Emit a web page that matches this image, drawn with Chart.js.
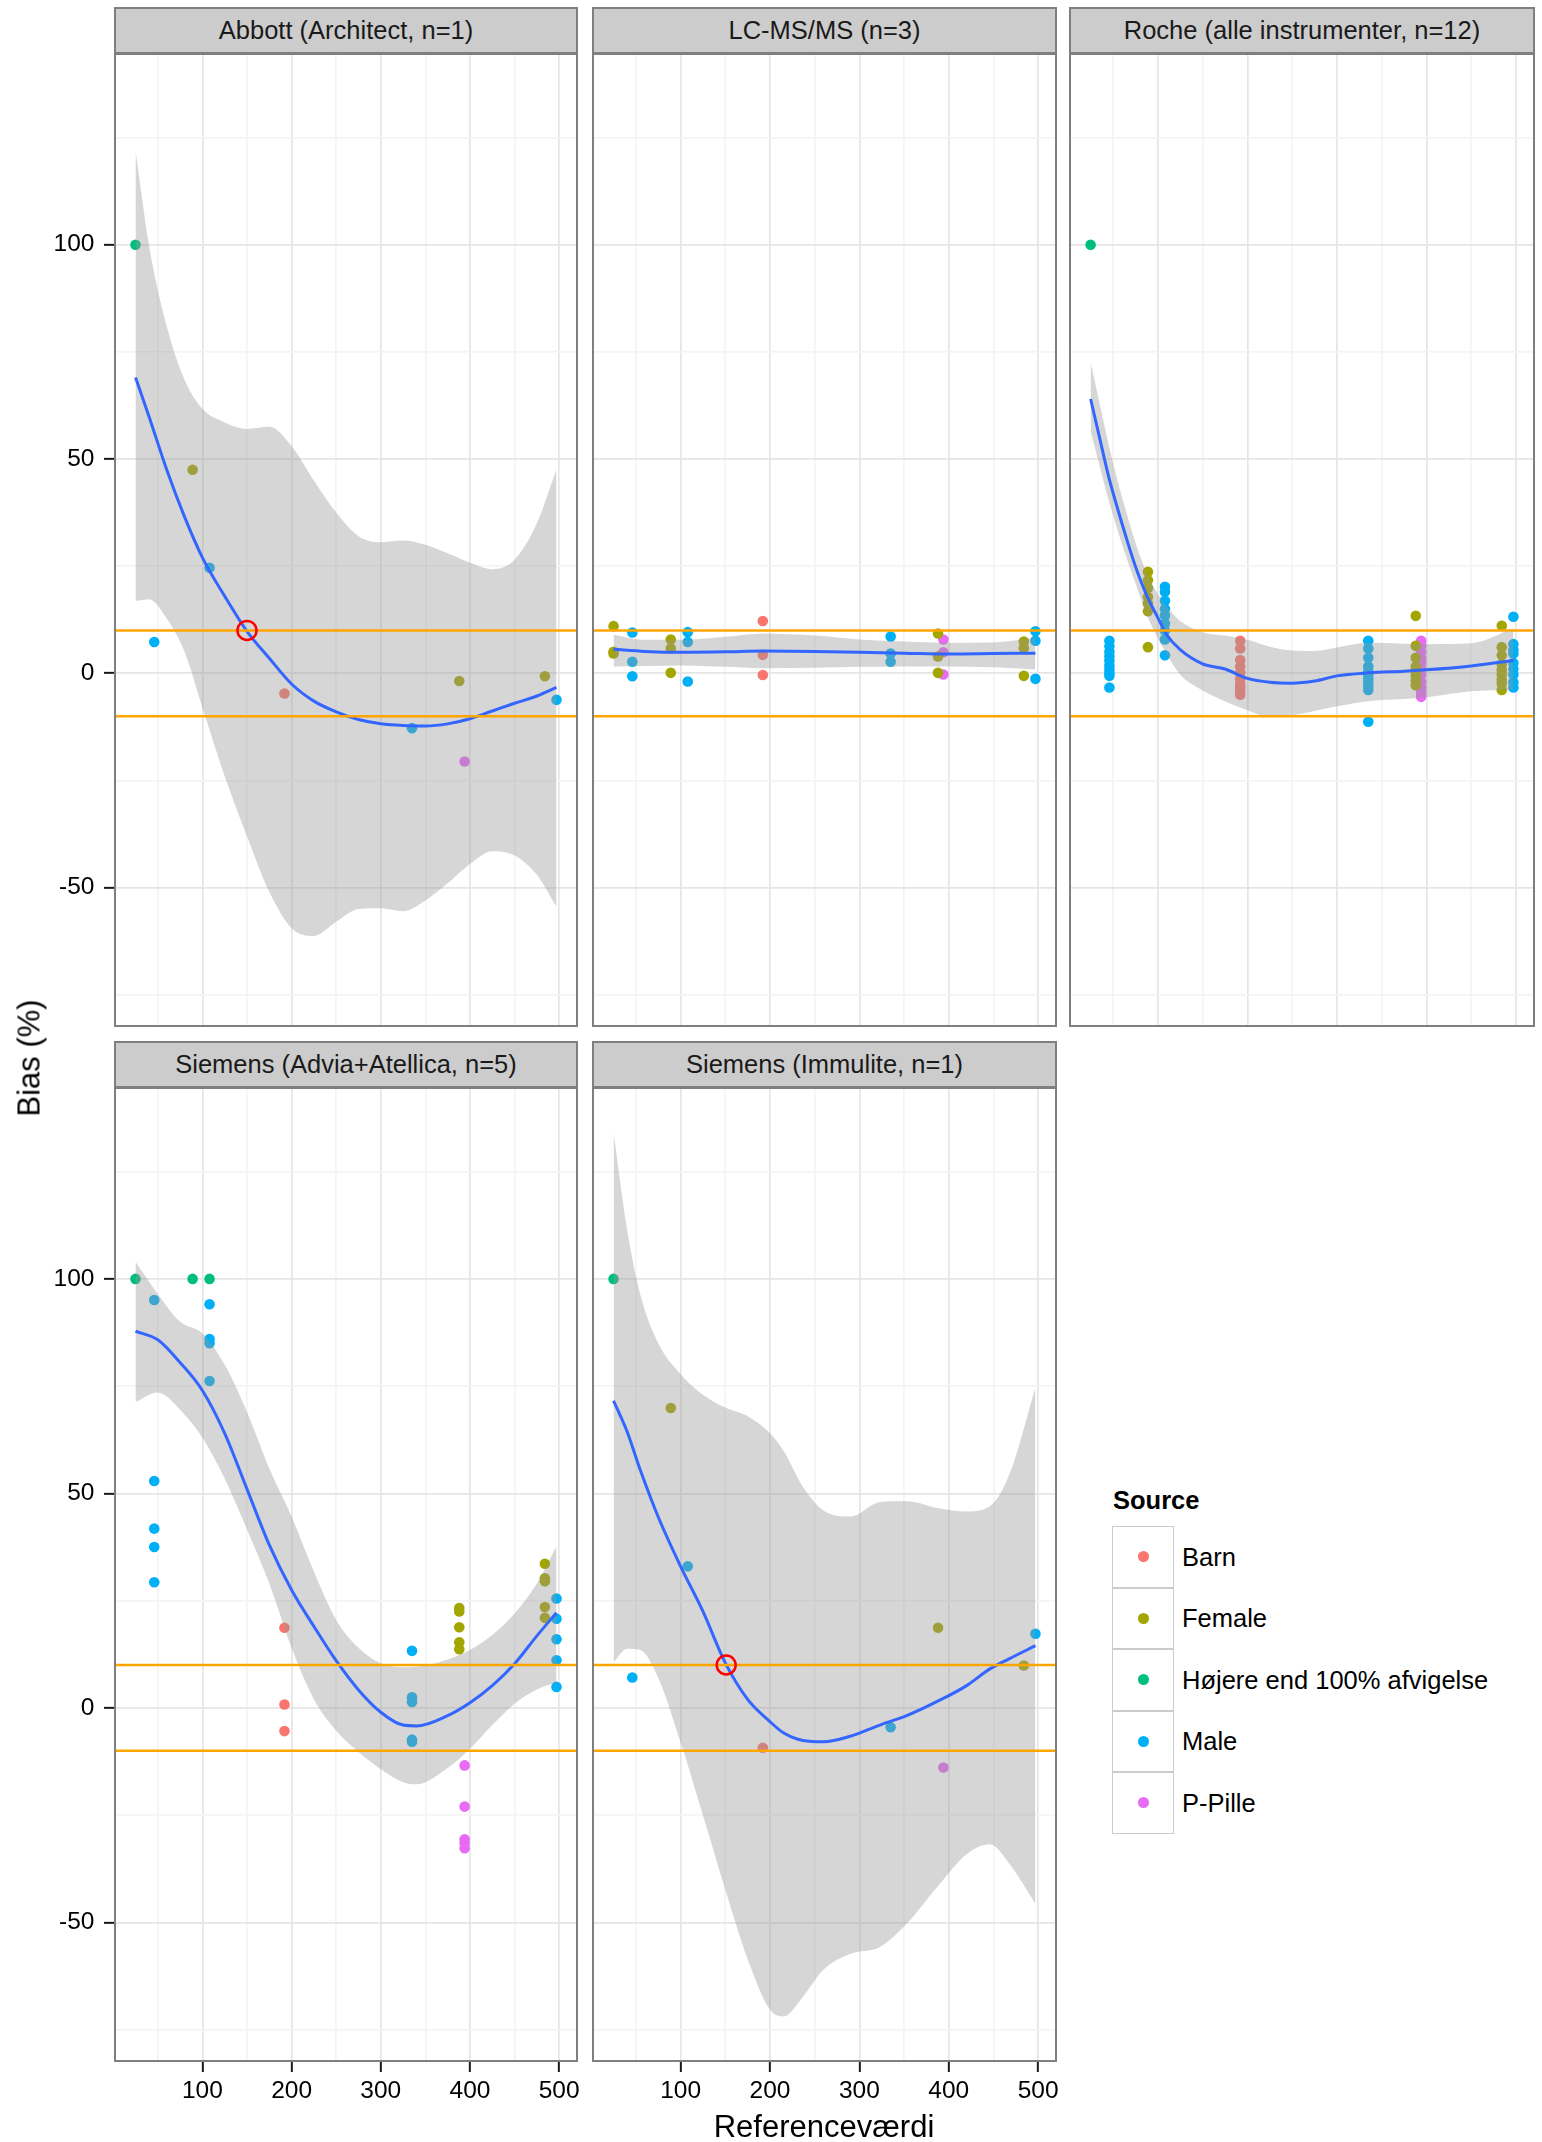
<!DOCTYPE html>
<html>
<head>
<meta charset="utf-8">
<script src="https://cdn.jsdelivr.net/npm/chart.js@4.4.0/dist/chart.umd.min.js"></script>
<style>
  body { margin: 0; background: #fff; font-family: "Liberation Sans", Arial, sans-serif; }
  #page { position: relative; width: 1542px; height: 2142px; overflow: hidden; background: #fff; }
  #page canvas { position: absolute; }
  .strip { position: absolute; box-sizing: border-box; background: #cccccc; border: 2px solid #7f7f7f;
           font-size: 25.5px; color: #1a1a1a; display: flex; align-items: center; justify-content: center; white-space: nowrap; }
  .axis-title { position: absolute; font-size: 31px; line-height: 31px; color: #000; white-space: nowrap; }
  #legend-title { position: absolute; left: 1113px; top: 1488px; font-size: 25.5px; line-height: 25.5px; font-weight: bold; }
  .key { position: absolute; left: 1112px; width: 62px; height: 61.5px; box-sizing: border-box; border: 1.5px solid #cccccc; background: #fff; }
  .key span { position: absolute; left: 50%; top: 50%; width: 11px; height: 11px; margin: -5.5px 0 0 -5.5px; border-radius: 50%; }
  .key-label { position: absolute; left: 1182px; font-size: 25.5px; line-height: 30px; white-space: nowrap; }
</style>
</head>
<body>
<div id="page"></div>
<script>
// sources and colours
const sources = ['Barn', 'Female', 'Højere end 100% afvigelse', 'Male', 'P-Pille'];
const sourceColors = ['#F8766D', '#A3A500', '#00BF7D', '#00B0F6', '#E76BF3'];

// axes
const xMin = 2, xMax = 520;
const yMin = -82.3, yMax = 144.5;
const xMajor = [100, 200, 300, 400, 500];
const xMinor = [50, 150, 250, 350, 450];
const yMajor = [-50, 0, 50, 100];
const yMinor = [-75, -25, 25, 75, 125];
const limitLines = [10, -10];

// Abbott (Architect, n=1)
const abbottBarn = [[192, -4.7]];
const abbottFemale = [[89, 47.5], [388, -1.8], [484, -0.7]];
const abbottHojere = [[25, 100]];
const abbottMale = [[46, 7.3], [108, 24.6], [335, -12.8], [497, -6.2]];
const abbottPPille = [[394, -20.6]];
const abbottMarker = [[150, 10]];
const abbottSmoothX = [25, 40, 60, 80, 100, 125, 150, 175, 200, 225, 250, 275, 300, 325, 350, 375, 400, 425, 450, 475, 497];
const abbottFit = [69, 60, 47.5, 36.5, 27, 18, 9.8, 3.5, -2.5, -6.5, -9, -10.8, -11.8, -12.2, -12.3, -11.8, -10.6, -8.8, -7, -5.3, -3.3];
const abbottUpper = [122, 100, 81, 68.5, 61.7, 58.5, 57, 57.5, 53, 45, 37.5, 32, 30.6, 31, 30, 28, 25.8, 24.3, 26.5, 35, 47.6];
const abbottLower = [16.9, 17.3, 12.8, 5, -8, -24, -38, -51, -59.5, -61.3, -58, -55, -54.8, -55.5, -53, -49, -44.5, -41.5, -42.5, -47, -54.5];

// LC-MS/MS (n=3)
const lcBarn = [[192, 12.2], [192, 4.3], [192, -0.4]];
const lcFemale = [[25, 11], [25, 5], [25, 4.6], [89, 7.9], [89, 5.8], [89, 0.1], [388, 9.3], [388, 3.9], [388, 0.1],
                  [484, 7.4], [484, 5.9], [484, -0.6]];
const lcHojere = [];
const lcMale = [[46, 9.5], [46, 2.7], [46, -0.7], [108, 9.6], [108, 7.3], [108, -1.9], [335, 8.6], [335, 4.6], [335, 2.7],
                [497, 9.8], [497, 7.6], [497, -1.3]];
const lcPPille = [[394, 7.9], [394, 4.9], [394, -0.3]];
const lcSmoothX = [25, 60, 100, 150, 192, 250, 300, 350, 400, 450, 497];
const lcFit = [5.6, 5.1, 4.9, 5.0, 5.2, 5.1, 4.9, 4.7, 4.5, 4.6, 4.7];
const lcUpper = [9, 7.8, 7.8, 8.5, 9.3, 8.8, 7.9, 7.4, 7.1, 7.2, 8.3];
const lcLower = [1.6, 1.7, 1.8, 1.5, 1.2, 1.3, 1.5, 1.6, 1.6, 1.4, 0.9];

// Roche (alle instrumenter, n=12)
const rocheBarn = [[192, 7.6], [192, 5.8], [192, 3.1], [192, 1.6], [192, 0.1], [192, -1.3], [192, -2.5], [192, -3.3], [192, -4.3], [192, -5]];
const rocheFemale = [[89, 23.7], [89, 21.7], [89, 19.9], [89, 17.8], [89, 16.3], [89, 14.5], [89, 6.1],
                     [388, 13.4], [388, 6.4], [388, 3.6], [388, 1.6], [388, 0.5], [388, -0.6], [388, -1.8], [388, -2.8],
                     [484, 11.1], [484, 6.1], [484, 4.2], [484, 2.1], [484, 0.8], [484, -0.3], [484, -1.5], [484, -2.4], [484, -3.9]];
const rocheHojere = [[25, 100]];
const rocheMale = [[46, 7.6], [46, 6.3], [46, 5], [46, 4], [46, 3], [46, 1.8], [46, 0.8], [46, 0], [46, -0.6], [46, -3.3],
                   [108, 20.2], [108, 19], [108, 16.9], [108, 15], [108, 13.5], [108, 11.6], [108, 10], [108, 7.9], [108, 4.2],
                   [335, 7.6], [335, 5.8], [335, 3.6], [335, 1.6], [335, 0.5], [335, -0.3], [335, -1.2], [335, -2.1], [335, -3], [335, -3.9], [335, -11.3],
                   [497, 13.2], [497, 6.8], [497, 5.5], [497, 4.6], [497, 2.4], [497, 1], [497, -0.3], [497, -2.1], [497, -3.3]];
const rochePPille = [[394, 7.6], [394, 6.5], [394, 5], [394, 3.5], [394, 2.4], [394, 1], [394, -0.3], [394, -2], [394, -3.3], [394, -4.5], [394, -5.5]];
const rocheSmoothX = [25, 35, 45, 55, 65, 75, 88, 100, 110, 125, 150, 175, 200, 225, 250, 275, 300, 335, 375, 400, 450, 497];
const rocheFit = [64, 55, 46, 38.5, 31.5, 25, 18, 13, 9, 5.5, 2.2, 1, -1.2, -2.1, -2.3, -1.8, -0.6, 0.1, 0.5, 0.8, 1.7, 3];
const rocheUpper = [72.6, 63, 53.5, 45, 37.5, 30.5, 23.2, 18.5, 15.5, 12.2, 9.6, 8.8, 7.8, 6.2, 5.3, 5.2, 6, 7.1, 6.9, 6.8, 7, 10.5];
const rocheLower = [56.5, 48.5, 40.5, 33.5, 27, 21, 13.5, 8.2, 4.5, -0.3, -4, -6.5, -8.6, -10.2, -9.8, -8.8, -7.7, -6.5, -6, -5.6, -4.2, -3.9];

// Siemens (Advia+Atellica, n=5)
const advBarn = [[192, 18.7], [192, 0.8], [192, -5.4]];
const advFemale = [[388, 23.3], [388, 22.5], [388, 18.8], [388, 15.3], [388, 13.7],
                   [484, 33.6], [484, 30.2], [484, 29.5], [484, 23.5], [484, 21]];
const advHojere = [[25, 100], [89, 100], [108, 100]];
const advMale = [[46, 95.1], [46, 52.9], [46, 41.8], [46, 37.5], [46, 29.3],
                 [108, 94.1], [108, 86], [108, 85], [108, 76.2],
                 [335, 13.3], [335, 2.5], [335, 1.4], [335, -7.4], [335, -7.9],
                 [497, 25.5], [497, 20.8], [497, 16], [497, 11.1], [497, 4.9]];
const advPPille = [[394, -13.4], [394, -23], [394, -30.6], [394, -31.5], [394, -32.7]];
const advSmoothX = [25, 50, 75, 100, 125, 150, 175, 200, 225, 250, 275, 300, 325, 340, 375, 400, 425, 450, 475, 497];
const advFit = [87.8, 85.8, 80.5, 74, 64, 51, 38, 27.5, 19, 11, 4.2, -1, -4, -4.2, -1.8, 1.2, 5.2, 10.3, 16.8, 22.2];
const advUpper = [104, 96.5, 90, 87.3, 80, 69, 55.8, 44.6, 31.8, 20.5, 14, 10.4, 9.5, 9.6, 11.3, 13.5, 17, 22, 29, 37.7];
const advLower = [71.3, 73.5, 69.5, 63, 53.5, 41.6, 29, 14, 2, -5.3, -10.3, -14.3, -17.3, -17.8, -14, -9.5, -4, 1, 4.3, 6];

// Siemens (Immulite, n=1)
const immBarn = [[192, -9.3]];
const immFemale = [[89, 69.9], [388, 18.7], [484, 9.9]];
const immHojere = [[25, 100]];
const immMale = [[46, 7.1], [108, 33], [335, -4.5], [497, 17.3]];
const immPPille = [[394, -13.9]];
const immMarker = [[151, 10]];
const immSmoothX = [25, 40, 55, 75, 100, 125, 150, 175, 200, 215, 237, 260, 290, 323, 353, 390, 420, 446, 468, 497];
const immFit = [71.6, 64.5, 55.4, 44.5, 33, 22.5, 10.5, 2, -3.2, -5.8, -7.6, -7.9, -6.6, -4, -1.8, 1.8, 5.2, 9.1, 11.5, 14.5];
const immUpper = [134, 111.7, 96.3, 85, 77.8, 73, 70, 68, 64, 60, 51.5, 46, 44.6, 48, 48.2, 46.5, 45.8, 47, 54.5, 74.7];
const immLower = [10.6, 13.8, 13.5, 7, -8, -25, -42.3, -58.5, -70.3, -71.9, -67.3, -61, -57.3, -55.7, -50.3, -41, -34.1, -31.8, -36.4, -45.7];

const fontFamily = '"Liberation Sans", Arial, sans-serif';
Chart.defaults.font.family = fontFamily;

const panels = [
  { title: 'Abbott (Architect, n=1)', left: 0, top: 50, width: 580, height: 980, showY: true, showX: false,
    points: [abbottBarn, abbottFemale, abbottHojere, abbottMale, abbottPPille],
    smoothX: abbottSmoothX, fit: abbottFit, upper: abbottUpper, lower: abbottLower, marker: abbottMarker },
  { title: 'LC-MS/MS (n=3)', left: 589, top: 50, width: 470, height: 980, showY: false, showX: false,
    points: [lcBarn, lcFemale, lcHojere, lcMale, lcPPille],
    smoothX: lcSmoothX, fit: lcFit, upper: lcUpper, lower: lcLower },
  { title: 'Roche (alle instrumenter, n=12)', left: 1066, top: 50, width: 471, height: 980, showY: false, showX: false,
    points: [rocheBarn, rocheFemale, rocheHojere, rocheMale, rochePPille],
    smoothX: rocheSmoothX, fit: rocheFit, upper: rocheUpper, lower: rocheLower },
  { title: 'Siemens (Advia+Atellica, n=5)', left: 0, top: 1084, width: 580, height: 1058, showY: true, showX: true,
    points: [advBarn, advFemale, advHojere, advMale, advPPille],
    smoothX: advSmoothX, fit: advFit, upper: advUpper, lower: advLower },
  { title: 'Siemens (Immulite, n=1)', left: 589, top: 1084, width: 470, height: 1058, showY: false, showX: true,
    points: [immBarn, immFemale, immHojere, immMale, immPPille],
    smoothX: immSmoothX, fit: immFit, upper: immUpper, lower: immLower, marker: immMarker }
];

const page = document.getElementById('page');

const toXY = pts => pts.map(([x, y]) => ({ x, y }));
const zipXY = (xs, ys) => xs.map((x, i) => ({ x, y: ys[i] }));

// grey border round each panel
const panelBorder = {
  id: 'panelBorder',
  afterDraw(chart) {
    const a = chart.chartArea, ctx = chart.ctx;
    ctx.save();
    ctx.strokeStyle = '#7f7f7f';
    ctx.lineWidth = 2;
    ctx.strokeRect(a.left, a.top, a.right - a.left, a.bottom - a.top);
    ctx.restore();
  }
};

function scaleOptions(major, minor, min, max, show, horizontal) {
  const all = major.concat(minor).sort((a, b) => a - b);
  return {
    type: 'linear', min, max,
    afterBuildTicks: axis => { axis.ticks = all.map(v => ({ value: v })); },
    afterFit: s => {
      if (horizontal) s.height = show ? 45 : 0;
      else s.width = show ? 115 : 0;
      s.paddingLeft = 0; s.paddingRight = 0; s.paddingTop = 0; s.paddingBottom = 0;
    },
    border: { display: false },
    grid: {
      color: c => (c.tick && major.includes(c.tick.value)) ? '#e5e5e5' : '#f4f4f4',
      lineWidth: 1.7,
      drawTicks: show,
      tickLength: 11,
      tickWidth: 2,
      tickColor: c => (c.tick && major.includes(c.tick.value)) ? '#1a1a1a' : 'rgba(0,0,0,0)'
    },
    ticks: {
      display: show, autoSkip: false, maxRotation: 0, minRotation: 0,
      padding: horizontal ? 4.5 : 9.5,
      color: '#000',
      font: { family: fontFamily, size: 24.5 },
      callback: v => major.includes(v) ? String(v) : ''
    }
  };
}

function buildPanel(p) {
  const canvas = document.createElement('canvas');
  canvas.width = p.width;
  canvas.height = p.height;
  canvas.style.left = p.left + 'px';
  canvas.style.top = p.top + 'px';
  page.appendChild(canvas);

  const smooth = { pointRadius: 0, cubicInterpolationMode: 'monotone' };
  const datasets = [];
  if (p.marker) {
    datasets.push({ data: toXY(p.marker), showLine: false, pointRadius: 9.5, pointBorderWidth: 2.5,
                    pointBorderColor: '#ff0000', pointBackgroundColor: 'rgba(0,0,0,0)', order: 0 });
  }
  limitLines.forEach(v => {
    datasets.push({ data: [{ x: xMin, y: v }, { x: xMax, y: v }], borderColor: '#FFA500', borderWidth: 2.5,
                    pointRadius: 0, fill: false, order: 1 });
  });
  datasets.push(Object.assign({ data: zipXY(p.smoothX, p.fit), borderColor: '#3366FF', borderWidth: 3, fill: false, order: 2 }, smooth));
  datasets.push(Object.assign({ data: zipXY(p.smoothX, p.upper), borderColor: 'rgba(0,0,0,0)', borderWidth: 1,
                                fill: '+1', backgroundColor: 'rgba(153,153,153,0.4)', order: 3 }, smooth));
  datasets.push(Object.assign({ data: zipXY(p.smoothX, p.lower), borderColor: 'rgba(0,0,0,0)', borderWidth: 1,
                                fill: false, order: 4 }, smooth));
  p.points.forEach((pts, i) => {
    datasets.push({ label: sources[i], data: toXY(pts), showLine: false, pointRadius: 5.3, pointBorderWidth: 0,
                    pointBackgroundColor: sourceColors[i], pointBorderColor: sourceColors[i], order: 5 });
  });

  const bottomPad = p.showX ? p.height - 977 - 45 : p.height - 976;
  const chart = new Chart(canvas, {
    type: 'line',
    data: { datasets },
    options: {
      responsive: false,
      animation: false,
      layout: { autoPadding: false, padding: { left: p.showY ? 0 : 4, right: 3, top: 4, bottom: bottomPad } },
      plugins: { legend: { display: false }, tooltip: { enabled: false } },
      scales: {
        x: scaleOptions(xMajor, xMinor, xMin, xMax, p.showX, true),
        y: scaleOptions(yMajor, yMinor, yMin, yMax, p.showY, false)
      }
    },
    plugins: [panelBorder]
  });

  // facet strip above the panel
  const a = chart.chartArea;
  const strip = document.createElement('div');
  strip.className = 'strip';
  strip.style.left = (p.left + a.left - 1) + 'px';
  strip.style.top = (p.top + a.top - 47) + 'px';
  strip.style.width = (a.right - a.left + 2) + 'px';
  strip.style.height = '47px';
  strip.textContent = p.title;
  page.appendChild(strip);
}

panels.forEach(buildPanel);

// axis titles
const xTitle = document.createElement('div');
xTitle.className = 'axis-title';
xTitle.textContent = 'Referenceværdi';
xTitle.style.left = '824px';
xTitle.style.top = '2111px';
xTitle.style.transform = 'translateX(-50%)';
page.appendChild(xTitle);

const yTitle = document.createElement('div');
yTitle.className = 'axis-title';
yTitle.textContent = 'Bias (%)';
yTitle.style.left = '29px';
yTitle.style.top = '1058px';
yTitle.style.transform = 'translate(-50%, -50%) rotate(-90deg)';
page.appendChild(yTitle);

// legend
const legendTitle = document.createElement('div');
legendTitle.id = 'legend-title';
legendTitle.textContent = 'Source';
page.appendChild(legendTitle);

sources.forEach((name, i) => {
  const top = 1526 + i * 61.5;
  const key = document.createElement('div');
  key.className = 'key';
  key.style.top = top + 'px';
  const dot = document.createElement('span');
  dot.style.background = sourceColors[i];
  key.appendChild(dot);
  page.appendChild(key);

  const label = document.createElement('div');
  label.className = 'key-label';
  label.style.top = (top + 15.75) + 'px';
  label.textContent = name;
  page.appendChild(label);
});
</script>
</body>
</html>
